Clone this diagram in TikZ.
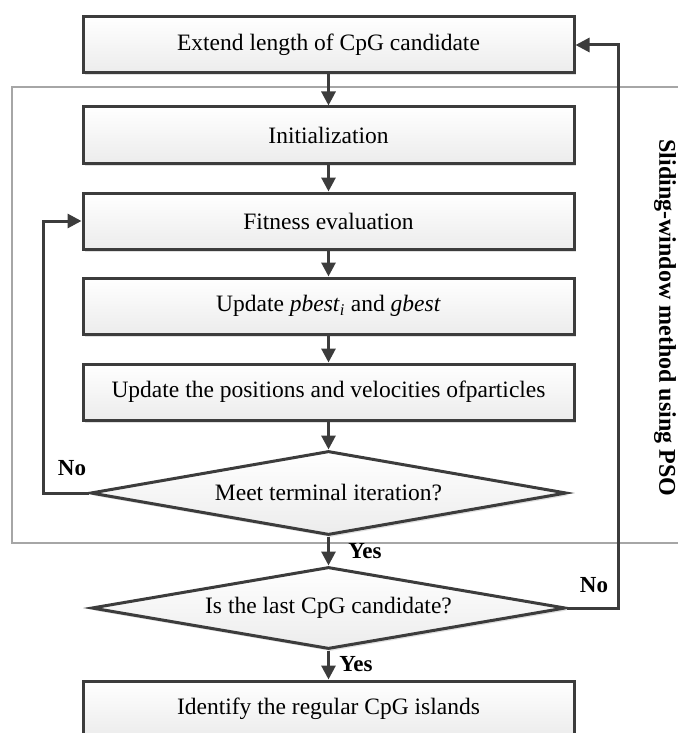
\documentclass[tikz,border=0pt]{standalone}
\usepackage{fontspec}
\setmainfont{Liberation Serif}
\usetikzlibrary{arrows.meta,shapes.geometric,shadows}
\definecolor{boxline}{HTML}{3C3C3C}
\definecolor{boxfill}{HTML}{ECECEC}
\definecolor{framegray}{HTML}{A6A6A6}
\begin{document}
\begin{tikzpicture}[x=1pt,y=-1pt,
  every node/.style={font=\fontsize{23.5}{27}\selectfont},
  softshadow/.style={drop shadow={shadow xshift=2pt, shadow yshift=-2.5pt, fill=black!12, opacity=1}},
  procbox/.style={draw=boxline, line width=3pt, rectangle, minimum width=491pt, minimum height=56pt, inner sep=0pt, top color=white, bottom color=boxfill, softshadow},
  decbox/.style={draw=boxline, line width=3pt, diamond, aspect=5.67, minimum width=476pt, minimum height=84pt, inner sep=0pt, top color=white, bottom color=boxfill, softshadow},
  flow/.style={draw=boxline, line width=3pt, -{Triangle[length=14pt,width=14pt]}},
  lbl/.style={font=\fontsize{23}{27}\selectfont\bfseries, inner sep=0pt}
]
\useasboundingbox (0,0) rectangle (677,733);
% sliding window frame
\draw[framegray, line width=2.5pt] (12,87) rectangle (720,543);
\node[lbl, font=\fontsize{24}{28}\selectfont\bfseries, rotate=-90] (side) at (665,318) {Sliding-window method using PSO};
% nodes
\node[procbox] (extend) at (328.5,45) {Extend length of CpG candidate};
\node[procbox] (init) at (328.5,135) {Initialization};
\node[procbox] (fit) at (328.5,221) {Fitness evaluation};
\node[procbox] (pbest) at (328.5,306) {Update \textit{pbest}\textsubscript{\textit{i}} and \textit{gbest}};
\node[procbox] (pos) at (328.5,392) {Update the positions and velocities ofparticles};
\node[decbox] (d1) at (328.5,493) {Meet terminal iteration?};
\node[decbox, minimum height=82pt, minimum width=474pt] (d2) at (328.5,608) {Is the last CpG candidate?};
\node[procbox] (ident) at (328.5,709) {Identify the regular CpG islands};
% connectors
\coordinate (lc) at (43,493);
\coordinate (rc) at (618,608);
\draw[flow] (extend) -- (init);
\draw[flow] (init) -- (fit);
\draw[flow] (fit) -- (pbest);
\draw[flow] (pbest) -- (pos);
\draw[flow] (pos) -- (d1);
\draw[flow] (d1) -- (d2);
\draw[flow] (d2) -- (ident);
\draw[flow] (d1.west) -- (lc) |- (fit.west);
\draw[flow] (d2.east) -- (rc) |- (extend.east);
% labels
\node[lbl] (no1) at (72,468) {No};
\node[lbl] (no2) at (594,585) {No};
\node[lbl] (yes1) at (365,551) {Yes};
\node[lbl] (yes2) at (356,664) {Yes};
\end{tikzpicture}
\end{document}
